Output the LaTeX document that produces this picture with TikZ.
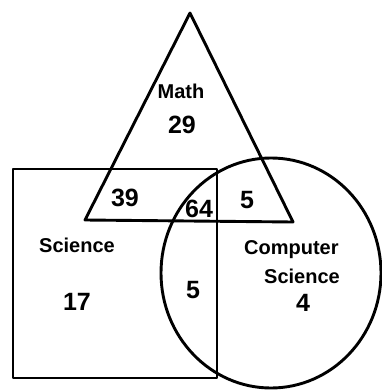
\documentclass[tikz,border=0pt]{standalone}
\usepackage{fontspec}
\setmainfont{Liberation Sans}

\begin{document}
\begin{tikzpicture}[x=1pt,y=-1pt,
    set/.style={line width=2.9pt,line join=round},
    lbl/.style={font=\bfseries\fontsize{20}{29}\selectfont,align=left,inner sep=0pt},
    num/.style={font=\bfseries\fontsize{25}{27}\selectfont,inner sep=0pt}]
        \useasboundingbox (0,0) rectangle (381,390);
        \draw[set] (190,13) -- (293,222) -- (85,220) -- cycle;
        \draw[set] (13,169) rectangle (217,378);
        \draw[set] (271,273) ellipse [x radius=110,y radius=115];
        \node[lbl] (math) at (181,91) {Math};
        \node[lbl] (sci) at (77,245) {Science};
        \node[lbl] (cs) at (292,262) {Computer\\\hspace*{20pt}Science};
        \node[num] (n29) at (182,125) {29};
        \node[num] (n39) at (125,198) {39};
        \node[num] (n64) at (199,209) {64};
        \node[num] (n5a) at (247,200) {5};
        \node[num] (n17) at (77,302) {17};
        \node[num] (n5b) at (193,290) {5};
        \node[num] (n4) at (303,303) {4};
      \end{tikzpicture}
\end{document}
